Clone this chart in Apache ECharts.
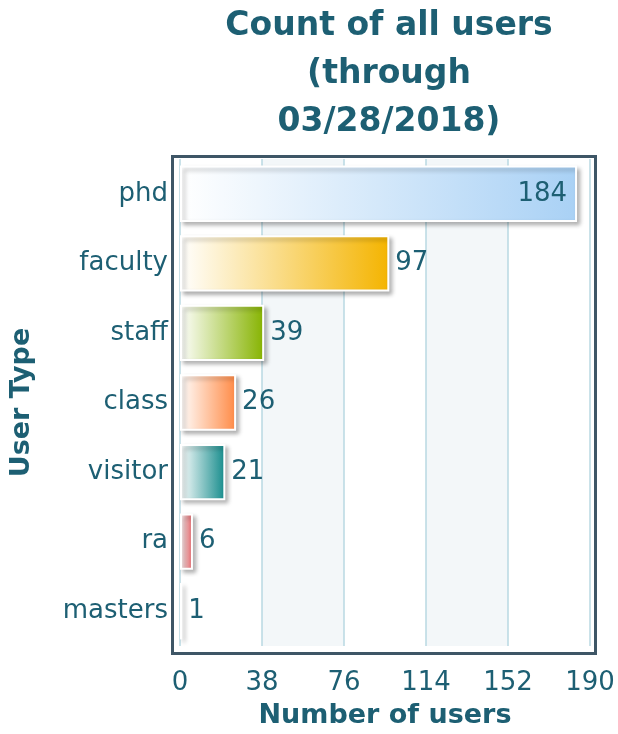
<!DOCTYPE html>
<html>
<head>
<meta charset="utf-8">
<script src="https://cdn.jsdelivr.net/npm/echarts@6/dist/echarts.min.js"></script>
<style>
  html, body { margin: 0; padding: 0; background: #fff; }
  #chart { width: 618px; height: 734px; }
</style>
</head>
<body>
<div id="chart"></div>
<script>
// values
var userTypes = ['phd', 'faculty', 'staff', 'class', 'visitor', 'ra', 'masters'];
var userCounts = [184, 97, 39, 26, 21, 6, 1];
var barColors = ['#a9d1f5', '#f4b400', '#86b300', '#ff8a45', '#148b8b', '#e05a5f', '#b0b0b0'];
var xTicks = [0, 38, 76, 114, 152, 190];

var textColor = '#1d5f73';
var font = 'DejaVu Sans, Verdana, sans-serif';

var myChart = echarts.init(document.getElementById('chart'));

var barData = userCounts.map(function (v, i) {
    return {
        value: v,
        itemStyle: {
            color: new echarts.graphic.LinearGradient(0, 0, 1, 0, [
                { offset: 0, color: '#ffffff' },
                { offset: 1, color: barColors[i] }
            ])
        },
        // phd label sits inside the bar
        label: i === 0 ? { position: 'insideRight', distance: 10 } : undefined
    };
});

var option = {
    title: {
        text: 'Count of all users\n(through\n03/28/2018)',
        left: 384,
        textAlign: 'center',
        top: -3,
        textStyle: {
            fontFamily: font,
            fontSize: 33,
            fontWeight: 'bold',
            color: textColor,
            lineHeight: 48
        }
    },
    grid: {
        left: 174,
        right: 28,
        top: 159,
        bottom: 87
    },
    // plot frame, a little larger than the grid
    graphic: [{
        type: 'rect',
        left: 170,
        top: 154,
        z: 10,
        silent: true,
        shape: { width: 423, height: 497 },
        style: { fill: null, stroke: '#3e5666', lineWidth: 3 }
    }],
    xAxis: {
        type: 'value',
        min: xTicks[0],
        max: xTicks[xTicks.length - 1],
        interval: xTicks[1] - xTicks[0],
        name: 'Number of users',
        nameLocation: 'middle',
        nameGap: 56,
        nameTextStyle: { fontFamily: font, fontSize: 27, fontWeight: 'bold', color: textColor },
        axisLine: { show: false },
        axisTick: { show: false },
        axisLabel: { fontFamily: font, fontSize: 26, color: textColor, margin: 24 },
        splitLine: { show: true, lineStyle: { color: '#b9d9e2', width: 1.5 } },
        splitArea: { show: true, areaStyle: { color: ['#ffffff', '#f3f7f9'] } }
    },
    yAxis: {
        type: 'category',
        data: userTypes,
        inverse: true,
        name: 'User Type',
        nameLocation: 'middle',
        nameGap: 145,
        nameTextStyle: { fontFamily: font, fontSize: 27, fontWeight: 'bold', color: textColor },
        axisLine: { show: false },
        axisTick: { show: false },
        axisLabel: { fontFamily: font, fontSize: 26, color: textColor, margin: 12 }
    },
    series: [{
        type: 'bar',
        data: barData,
        barCategoryGap: '19%',
        itemStyle: {
            borderColor: '#ffffff',
            borderWidth: 2,
            shadowColor: 'rgba(0,0,0,0.28)',
            shadowBlur: 4,
            shadowOffsetX: 3,
            shadowOffsetY: 3
        },
        label: {
            show: true,
            position: 'right',
            distance: 6,
            fontFamily: font,
            fontSize: 26,
            color: textColor
        },
        animation: false
    }]
};

myChart.setOption(option);
</script>
</body>
</html>
